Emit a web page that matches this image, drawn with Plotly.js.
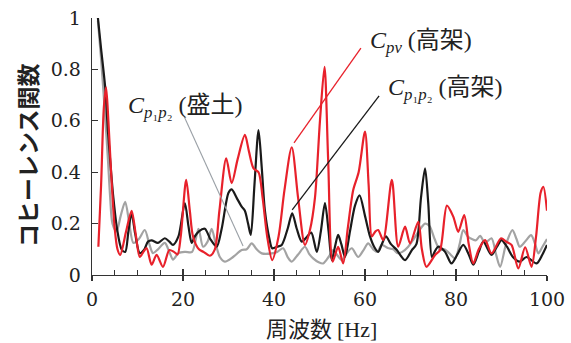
<!DOCTYPE html>
<html>
<head>
<meta charset="utf-8">
<script src="https://cdn.plot.ly/plotly-3.0.1.min.js"></script>
<style>html,body{margin:0;padding:0;background:#fff;}#chart{width:571px;height:343px;}</style>
</head>
<body>
<div id="chart"></div>
<script>
// Frequency [Hz] and coherence values
const freqGray = [1.3,2.0,2.8,3.5,4.0,4.5,5.4,6.3,7.3,8.2,9.1,10.3,11.6,12.6,13.4,14.5,16.0,17.0,17.8,19.0,20.5,22.0,23.4,24.4,25.4,26.3,27.2,28.1,29.2,31.0,32.9,34.0,35.1,36.2,37.3,39.5,40.7,42.0,43.0,43.9,45.3,46.8,47.8,48.6,49.8,50.8,52.0,53.0,54.0,54.9,56.0,57.1,58.5,59.6,60.7,61.8,62.7,63.7,65.0,66.2,67.2,68.2,69.5,70.7,72.0,73.2,74.2,75.3,76.5,77.5,78.5,79.8,80.8,81.6,82.6,83.5,84.4,85.3,86.4,87.8,88.8,89.7,91.0,92.4,93.3,94.0,95.2,96.5,97.4,98.1,99.0,100];
const cohGray  = [0.99,0.84,0.64,0.45,0.30,0.20,0.17,0.23,0.285,0.20,0.125,0.14,0.175,0.12,0.085,0.10,0.125,0.09,0.06,0.085,0.09,0.09,0.18,0.11,0.13,0.18,0.12,0.07,0.052,0.07,0.097,0.10,0.123,0.10,0.084,0.084,0.09,0.104,0.07,0.052,0.08,0.11,0.08,0.065,0.05,0.045,0.07,0.097,0.075,0.058,0.085,0.104,0.07,0.095,0.123,0.10,0.09,0.117,0.105,0.10,0.085,0.09,0.11,0.14,0.175,0.20,0.19,0.14,0.097,0.10,0.085,0.065,0.12,0.175,0.15,0.14,0.135,0.152,0.125,0.143,0.08,0.032,0.12,0.175,0.14,0.11,0.13,0.155,0.12,0.084,0.11,0.14];

const freqBlack = [1.3,2.0,2.9,3.5,4.2,4.7,5.5,6.5,7.3,8.0,8.7,9.5,10.5,11.5,12.3,13.1,14.5,16.0,17.0,17.8,19.0,20.4,21.2,21.9,22.6,23.5,24.8,26.0,27.4,28.5,30.0,30.7,31.8,32.9,33.6,34.3,34.9,35.7,36.6,37.3,38.0,39.0,39.6,40.7,41.7,43.0,44.0,45.0,46.1,47.3,48.2,49.4,50.3,51.2,52.0,52.7,53.4,54.1,54.8,55.6,56.7,57.8,58.8,60.0,61.1,62.0,62.9,63.7,64.6,65.7,67.0,68.8,70.3,71.3,72.3,73.2,73.9,74.7,75.3,76.1,77.6,79.0,80.3,81.6,82.8,83.8,85.0,86.0,87.8,89.0,90.0,91.2,92.5,94.0,95.5,97.7,99.0,100];
const cohBlack  = [1.0,0.88,0.73,0.56,0.40,0.30,0.18,0.10,0.09,0.17,0.24,0.16,0.085,0.10,0.13,0.135,0.125,0.143,0.13,0.117,0.15,0.28,0.19,0.125,0.15,0.17,0.18,0.14,0.11,0.18,0.32,0.333,0.30,0.266,0.25,0.20,0.156,0.35,0.564,0.42,0.25,0.14,0.104,0.11,0.117,0.18,0.24,0.18,0.13,0.15,0.165,0.09,0.17,0.28,0.17,0.058,0.11,0.156,0.12,0.07,0.17,0.27,0.31,0.23,0.15,0.11,0.09,0.12,0.15,0.12,0.097,0.058,0.097,0.12,0.30,0.415,0.28,0.07,0.09,0.11,0.09,0.045,0.08,0.117,0.08,0.04,0.09,0.13,0.078,0.11,0.136,0.11,0.07,0.052,0.07,0.045,0.08,0.117];

const freqRed = [1.4,2.0,2.6,3.1,3.6,4.2,5.0,5.6,6.2,7.5,8.7,9.6,10.5,11.3,12.0,13.1,14.2,15.6,17.0,18.0,18.8,19.5,20.7,21.5,22.2,23.5,24.5,25.9,27.0,28.0,29.5,30.7,32.0,33.6,34.5,35.5,36.6,37.5,38.5,39.6,41.0,42.3,43.9,45.3,46.8,47.9,49.0,50.1,51.1,51.9,52.9,54.1,55.2,56.2,57.4,58.6,60.0,60.8,61.5,62.3,62.9,64.0,65.9,67.3,68.8,69.9,71.7,72.5,73.5,75.4,76.5,78.0,79.4,80.5,81.8,82.8,83.8,85.0,86.4,87.8,89.9,91.0,92.2,93.7,95.2,96.6,97.6,98.6,99.2,100];
const cohRed  = [0.11,0.35,0.65,0.73,0.60,0.40,0.18,0.10,0.078,0.17,0.25,0.16,0.07,0.09,0.105,0.04,0.078,0.032,0.097,0.09,0.08,0.15,0.37,0.25,0.15,0.10,0.09,0.075,0.10,0.25,0.454,0.357,0.45,0.545,0.48,0.415,0.40,0.30,0.15,0.058,0.15,0.33,0.497,0.30,0.117,0.175,0.30,0.60,0.81,0.45,0.052,0.11,0.045,0.18,0.33,0.40,0.558,0.35,0.15,0.17,0.175,0.136,0.37,0.11,0.188,0.123,0.207,0.10,0.032,0.078,0.097,0.27,0.227,0.168,0.233,0.12,0.045,0.10,0.136,0.084,0.143,0.13,0.117,0.026,0.108,0.032,0.15,0.32,0.343,0.25];

const xTicks = [0,20,40,60,80,100];
const yTicks = [0,0.2,0.4,0.6,0.8,1];
const yTickText = ['0','0.2','0.4','0.6','0.8','1'];

const labelRed   = '<i>C</i><sub><i>pv</i></sub> (高架)';
const labelBlack = '<i>C</i><sub><i>p</i>₁<i>p</i>₂</sub> (高架)';
const labelGray  = '<i>C</i><sub><i>p</i>₁<i>p</i>₂</sub> (盛土)';
const xTitle = '周波数 <span style="font-family:\'Liberation Serif\'">[Hz]</span>';
const yTitle = 'コヒーレンス関数';

const serif = 'DejaVu Serif, Liberation Serif, serif';
const labelFont = {family: 'Liberation Serif, Noto Sans CJK JP, serif', size: 24, color: '#222'};

const traces = [
  {x: freqGray, y: cohGray, type: 'scatter', mode: 'lines', line: {color: '#a3a3a3', width: 2.2, shape: 'spline', smoothing: 0.8}, hoverinfo: 'skip'},
  {x: freqBlack, y: cohBlack, type: 'scatter', mode: 'lines', line: {color: '#1a1a1a', width: 2.2, shape: 'spline', smoothing: 0.8}, hoverinfo: 'skip'},
  {x: freqRed, y: cohRed, type: 'scatter', mode: 'lines', line: {color: '#e8212b', width: 2.2, shape: 'spline', smoothing: 0.8}, hoverinfo: 'skip'},
  {x: [xTicks[0]], y: [yTicks[0]], xaxis: 'x2', type: 'scatter', mode: 'markers', marker: {opacity: 0}, hoverinfo: 'skip'}
];

const layout = {
  width: 571, height: 343,
  margin: {l: 92, r: 24, t: 18, b: 68},
  paper_bgcolor: '#fff', plot_bgcolor: '#fff',
  showlegend: false,
  font: {family: serif, color: '#222'},
  xaxis: {
    range: [0, 100], tickvals: xTicks, ticktext: xTicks.map(String),
    ticks: 'inside', ticklen: 6, tickwidth: 1.2, tickcolor: '#333',
    minor: {dtick: 5, ticks: 'inside', ticklen: 5, tickwidth: 1.2, tickcolor: '#333'},
    showline: true, linecolor: '#333', linewidth: 1.3,
    showgrid: false, zeroline: false,
    tickfont: {family: serif, size: 19, color: '#222'},
    ticklabelstandoff: 7
  },
  xaxis2: {
    overlaying: 'x', matches: 'x', anchor: 'y', side: 'bottom',
    tickvals: xTicks, ticks: 'outside', ticklen: 5, tickwidth: 1.2, tickcolor: '#333',
    showticklabels: false, showline: false, showgrid: false, zeroline: false
  },
  yaxis: {
    range: [0, 1], tickvals: yTicks, ticktext: yTickText,
    ticks: 'inside', ticklen: 6, tickwidth: 1.2, tickcolor: '#333',
    showline: true, linecolor: '#333', linewidth: 1.3,
    showgrid: false, zeroline: false,
    tickfont: {family: serif, size: 19, color: '#222'},
    ticklabelstandoff: 6
  },
  shapes: [
    {type: 'line', xref: 'x', yref: 'y', x0: 59.1, y0: 0.883, x1: 44.4, y1: 0.514, line: {color: '#e8212b', width: 1.3}},
    {type: 'line', xref: 'x', yref: 'y', x0: 63.1, y0: 0.697, x1: 44.0, y1: 0.253, line: {color: '#1a1a1a', width: 1.3}},
    {type: 'line', xref: 'x', yref: 'y', x0: 20.2, y0: 0.619, x1: 33.2, y1: 0.113, line: {color: '#9aa0a6', width: 1.1}}
  ],
  annotations: [
    {xref: 'paper', yref: 'paper', x: 0.607, y: 0.905, xanchor: 'left', yanchor: 'middle', showarrow: false, text: labelRed, font: labelFont},
    {xref: 'paper', yref: 'paper', x: 0.647, y: 0.722, xanchor: 'left', yanchor: 'middle', showarrow: false, text: labelBlack, font: labelFont},
    {xref: 'paper', yref: 'paper', x: 0.075, y: 0.655, xanchor: 'left', yanchor: 'middle', showarrow: false, text: labelGray, font: labelFont},
    {xref: 'paper', yref: 'paper', x: -0.143, y: 0.467, xanchor: 'center', yanchor: 'middle', showarrow: false, textangle: -90, text: yTitle, font: {family: 'Noto Sans CJK JP', size: 23, color: '#222', weight: 'bold'}},
    {xref: 'paper', yref: 'paper', x: 0.505, y: -0.202, xanchor: 'center', yanchor: 'middle', showarrow: false, text: xTitle, font: {family: 'Noto Sans CJK JP', size: 22, color: '#222'}}
  ]
};

Plotly.newPlot('chart', traces, layout, {displayModeBar: false, staticPlot: true});
</script>
</body>
</html>
